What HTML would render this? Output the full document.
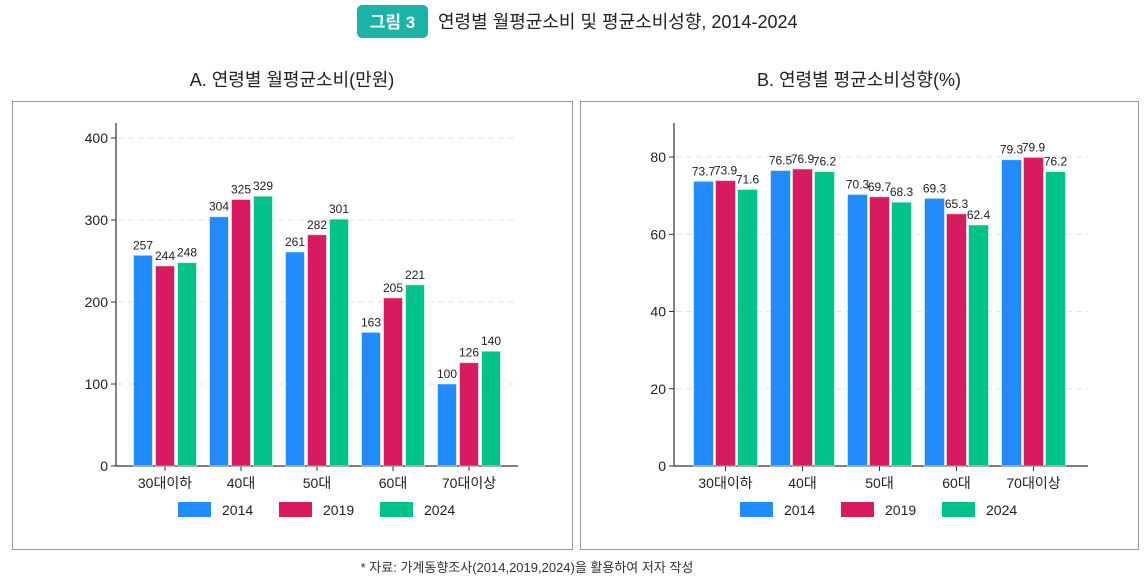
<!DOCTYPE html>
<html><head><meta charset="utf-8"><style>
body{margin:0;background:#fff;font-family:"Liberation Sans","Noto Sans CJK KR",sans-serif;}
svg text{font-family:"Liberation Sans","Noto Sans CJK KR",sans-serif;}
</style></head><body>
<svg width="1145" height="578" viewBox="0 0 1145 578" xmlns="http://www.w3.org/2000/svg">
<rect x="357" y="5" width="71" height="33" rx="5" fill="#1ab3a6"/>
<text x="392.5" y="28" text-anchor="middle" font-size="17" font-weight="bold" fill="#fff">그림 3</text>
<text x="438" y="28" font-size="18" fill="#222">연령별 월평균소비 및 평균소비성향, 2014-2024</text>
<text x="292" y="86" text-anchor="middle" font-size="18" fill="#222">A. 연령별 월평균소비(만원)</text>
<text x="859" y="86" text-anchor="middle" font-size="18" fill="#222">B. 연령별 평균소비성향(%)</text>
<rect x="12.5" y="101.5" width="560" height="448" fill="none" stroke="#999"/>
<rect x="580.5" y="101.5" width="558" height="448" fill="none" stroke="#999"/>
<g id="left"></g><g id="right"></g>
<text x="527" y="572" text-anchor="middle" font-size="13" fill="#333">* 자료: 가계동향조사(2014,2019,2024)을 활용하여 저자 작성</text>
</svg>
<script>
const categories=["30대이하","40대","50대","60대","70대이상"];
const years=["2014","2019","2024"];
const colors=["#228cff","#d81b60","#00c389"];
const spend2014=[257,304,261,163,100];
const spend2019=[244,325,282,205,126];
const spend2024=[248,329,301,221,140];
const rate2014=[73.7,76.5,70.3,69.3,79.3];
const rate2019=[73.9,76.9,69.7,65.3,79.9];
const rate2024=[71.6,76.2,68.3,62.4,76.2];
const leftTicks=[0,100,200,300,400];
const rightTicks=[0,20,40,60,80];
const NS="http://www.w3.org/2000/svg";
function mk(g,tag,a){const e=document.createElementNS(NS,tag);for(const k in a)e.setAttribute(k,a[k]);g.appendChild(e);return e;}
function draw(gid,series,ticks,cfg,prefix){
 const g=document.getElementById(gid);
 const y=v=>cfg.y0-(v/cfg.max)*(cfg.y0-cfg.ytop);
 const x=i=>cfg.x0+cfg.step*(i+0.5);
 ticks.forEach(t=>{
  if(t>0){const l=mk(g,'line',{x1:cfg.ax+2,x2:cfg.xend,y1:y(t),y2:y(t),stroke:'#e6e6e6','stroke-dasharray':'6 4'});
  
  }
  mk(g,'line',{x1:cfg.ax-5,x2:cfg.ax,y1:y(t),y2:y(t),stroke:'#333'});
  const tx=mk(g,'text',{x:cfg.ax-8,y:y(t)+5,'text-anchor':'end','font-size':14,fill:'#222'});tx.textContent=t;
  
  
 });
 const ax=mk(g,'line',{x1:cfg.ax,x2:cfg.ax,y1:cfg.atop,y2:cfg.y0,stroke:'#333','stroke-width':1.2});
 
 
 const xa=mk(g,'line',{x1:cfg.ax,x2:cfg.xend,y1:cfg.y0,y2:cfg.y0,stroke:'#333','stroke-width':1.2});
 
 
 categories.forEach((c,i)=>{
  mk(g,'line',{x1:x(i),x2:x(i),y1:cfg.y0,y2:cfg.y0+5,stroke:'#333'});
  const t=mk(g,'text',{x:x(i),y:cfg.y0+22,'text-anchor':'middle','font-size':14,fill:'#222'});t.textContent=c;
  
  
  series.forEach((s,j)=>{
   const bx=x(i)+(j-1)*cfg.pitch-cfg.bw/2;
   const r=mk(g,'rect',{x:bx,y:y(s[i]),width:cfg.bw,height:cfg.y0-y(s[i]),fill:colors[j],stroke:'#fff','stroke-opacity':0.5});
   
   
   const v=mk(g,'text',{x:bx+cfg.bw/2,y:y(s[i])-6,'text-anchor':'middle','font-size':12,fill:'#222'});v.textContent=s[i];
   
   
  });
 });
 years.forEach((yr,j)=>{
  const lx=cfg.legX+j*101;
  const r=mk(g,'rect',{x:lx,y:502,width:33,height:15,fill:colors[j]});
  
  
  const t=mk(g,'text',{x:lx+44,y:515,'font-size':14,fill:'#222'});t.textContent=yr;
  
  
 });
}
draw('left',[spend2014,spend2019,spend2024],leftTicks,{ax:116,x0:127,step:76,y0:466,ytop:138,atop:123,max:400,xend:518,bw:19,pitch:22,legX:178},'spend');
draw('right',[rate2014,rate2019,rate2024],rightTicks,{ax:674,x0:687,step:77,y0:466,ytop:157,atop:123,max:80,xend:1088,bw:20,pitch:22,legX:740},'rate');
</script>
</body></html>
